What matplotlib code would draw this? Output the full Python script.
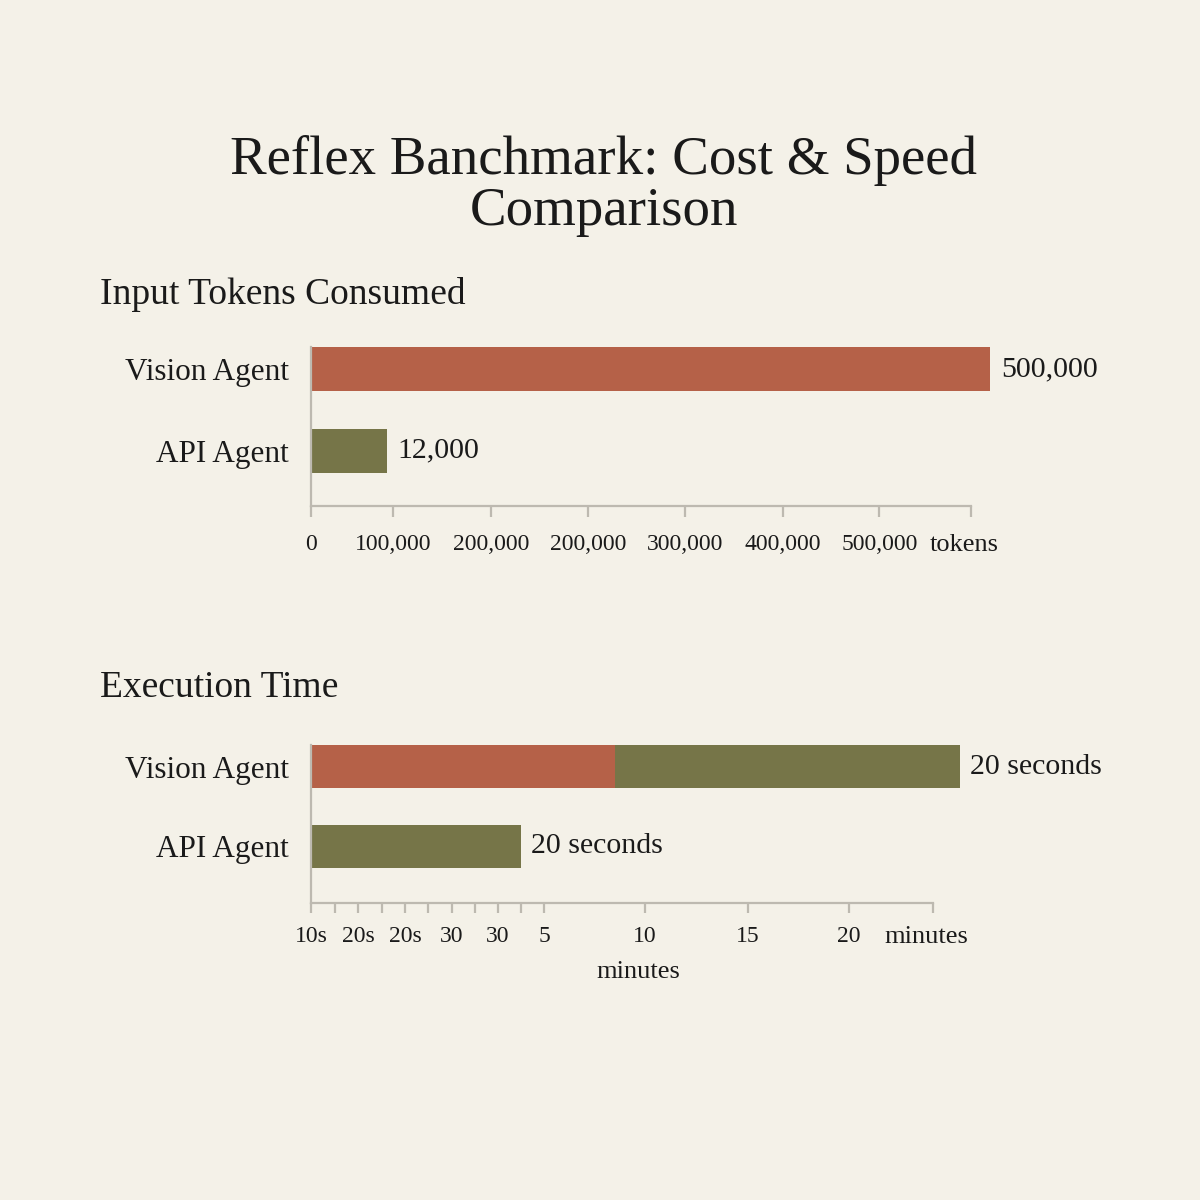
import matplotlib.pyplot as plt
import matplotlib.transforms as mtransforms

# datos del grafico (longitudes leidas sobre las escalas dibujadas)
agents = ["Vision Agent", "API Agent"]

# tokens: escala dibujada en miles
token_bars = [698, 78]
token_labels = ["500,000", "12,000"]
token_ticks = [0, 84, 185, 285, 384, 485, 584, 678]
token_tick_labels = ["0", "100,000", "200,000", "200,000", "300,000",
                     "400,000", "500,000", "tokens"]

# tiempo: escala dibujada en minutos
time_red = [14.95, 0]
time_green = [16.96, 10.32]
time_labels = ["20 seconds", "20 seconds"]
time_ticks = [0, 1.18, 2.31, 3.49, 4.62, 5.75, 6.93, 8.06, 9.19, 10.32,
              11.46, 16.42, 21.48, 26.45, 30.58]
time_tick_labels = ["10s", "", "20s", "", "20s", "", "30", "", "30", "",
                    "5", "10", "15", "20", "minutes"]

bg = "#F4F1E8"
red = "#B56148"
green = "#767548"
axcol = "#BDB9B0"
txt = "#1A1A1A"

plt.rcParams['font.family'] = ['Liberation Serif', 'DejaVu Serif']

fig = plt.figure(figsize=(12, 12), dpi=100, facecolor=bg)

fig.text(0.503, 1 - 186 / 1200, "Reflex Banchmark: Cost & Speed\nComparison",
         ha="center", va="center", fontsize=39.5, color=txt, linespacing=1.0)
fig.text(100 / 1200, 1 - 294 / 1200, "Input Tokens Consumed", ha="left",
         va="center", fontsize=27, color=txt)
fig.text(100 / 1200, 1 - 688 / 1200, "Execution Time", ha="left",
         va="center", fontsize=27, color=txt)

y = [1, 0]


def style(ax, ticklen, labsize, labpad):
    ax.set_facecolor(bg)
    for s in ["top", "right"]:
        ax.spines[s].set_visible(False)
    for s in ["left", "bottom"]:
        ax.spines[s].set_color(axcol)
        ax.spines[s].set_linewidth(1.6)
    ax.tick_params(axis="x", length=ticklen, width=1.6, color=axcol,
                   labelsize=labsize, labelcolor=txt, pad=labpad)
    ax.tick_params(axis="y", length=0, labelsize=22.5, labelcolor=txt, pad=16)
    ax.set_yticks(y)
    ax.set_yticklabels(agents)


def last_label(ax, size):
    # la etiqueta de unidades va un poco a la izquierda y mas grande
    lab = ax.get_xticklabels()[-1]
    lab.set_fontsize(size)
    lab.set_transform(lab.get_transform() +
                      mtransforms.ScaledTranslation(-7 / 100, 0, fig.dpi_scale_trans))


# panel de tokens
ax1 = fig.add_axes([311 / 1200, 1 - 506 / 1200, 660 / 1200, 159 / 1200])
style(ax1, 8, 17, 12)
ax1.barh(y, token_bars, height=0.54, color=[red, green], clip_on=False)
for yy, v, lab in zip(y, token_bars, token_labels):
    ax1.text(v + 11, yy, lab, va="center", ha="left", fontsize=21.5, color=txt)
ax1.set_xlim(0, token_ticks[-1])
ax1.set_ylim(-0.68, 1.27)
ax1.set_xticks(token_ticks)
ax1.set_xticklabels(token_tick_labels)
last_label(ax1, 19)

# panel de tiempo
ax2 = fig.add_axes([311 / 1200, 1 - 903 / 1200, 622 / 1200, 158 / 1200])
style(ax2, 7, 17, 9.5)
ax2.barh(y, time_red, height=0.54, color=red, clip_on=False)
ax2.barh(y, time_green, left=time_red, height=0.54, color=green, clip_on=False)
for yy, a, b, lab in zip(y, time_red, time_green, time_labels):
    ax2.text(a + b + 0.5, yy, lab, va="center", ha="left", fontsize=21.5, color=txt)
ax2.set_xlim(0, time_ticks[-1])
ax2.set_ylim(-0.71, 1.27)
ax2.set_xticks(time_ticks)
ax2.set_xticklabels(time_tick_labels)
last_label(ax2, 19)

fig.text(638 / 1200, 1 - 972 / 1200, "minutes", ha="center", va="center",
         fontsize=19, color=txt)

fig.savefig("out.png", dpi=100, facecolor=bg)
